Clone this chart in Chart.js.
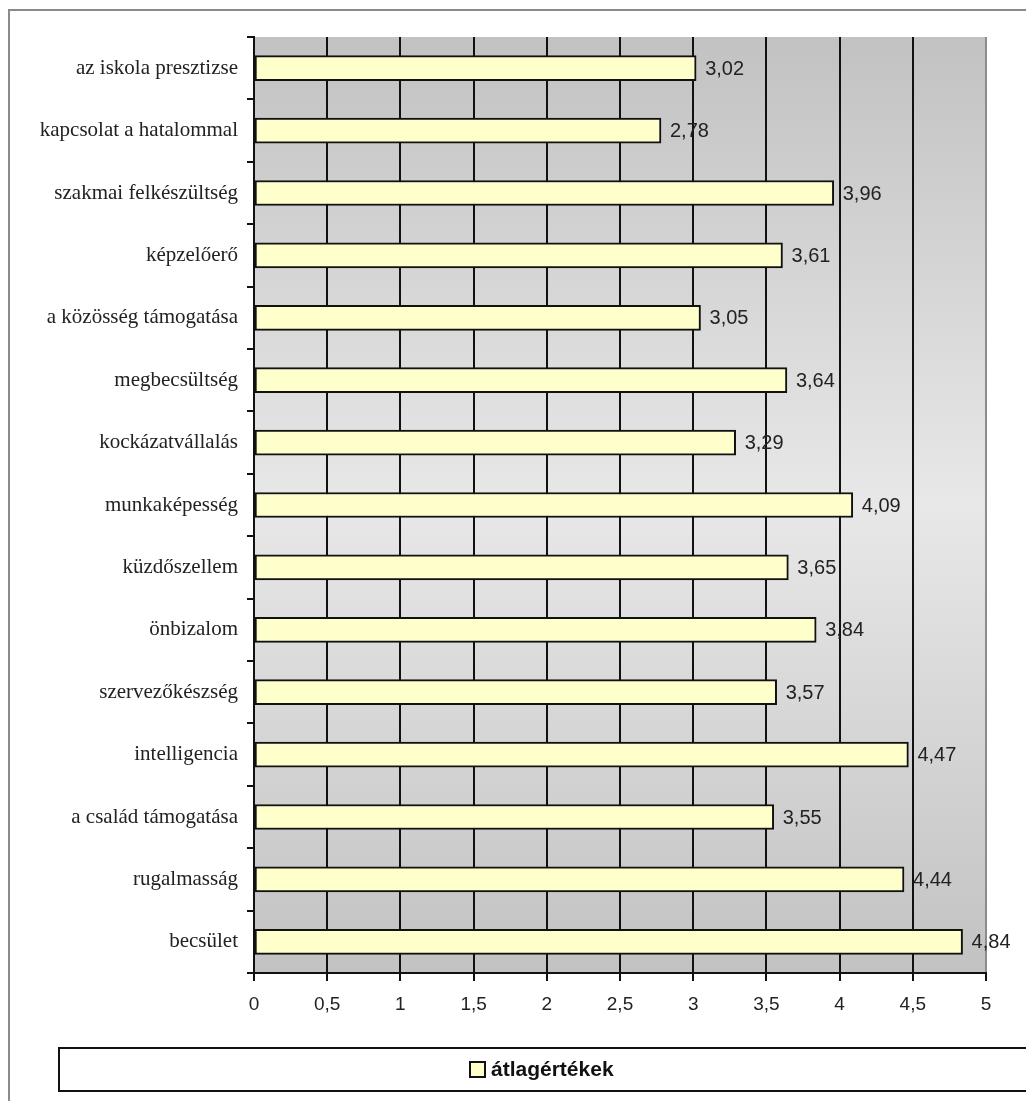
<!DOCTYPE html>
<html>
<head>
<meta charset="utf-8">
<script src="https://cdn.jsdelivr.net/npm/chart.js@4.4.0/dist/chart.umd.min.js"></script>
<style>
  html, body { margin: 0; padding: 0; background: #ffffff; }
  #wrap { width: 1026px; height: 1101px; position: relative; }
</style>
</head>
<body>
<div id="wrap"><canvas id="c" width="1026" height="1101"></canvas></div>
<script>
const categories = [
  "az iskola presztizse",
  "kapcsolat a hatalommal",
  "szakmai felkészültség",
  "képzelőerő",
  "a közösség támogatása",
  "megbecsültség",
  "kockázatvállalás",
  "munkaképesség",
  "küzdőszellem",
  "önbizalom",
  "szervezőkészség",
  "intelligencia",
  "a család támogatása",
  "rugalmasság",
  "becsület"
];
const seriesName = "átlagértékek";
const values = [3.02, 2.78, 3.96, 3.61, 3.05, 3.64, 3.29, 4.09, 3.65, 3.84, 3.57, 4.47, 3.55, 4.44, 4.84];
const xTickLabels = ["0", "0,5", "1", "1,5", "2", "2,5", "3", "3,5", "4", "4,5", "5"];

const fmt = v => String(v).replace('.', ',');

const bgPlugin = {
  id: 'bg',
  beforeDraw(chart) {
    const { ctx, chartArea: a } = chart;
    ctx.save();
    ctx.fillStyle = '#ffffff';
    ctx.fillRect(0, 0, chart.width, chart.height);
    const g = ctx.createLinearGradient(0, a.top, 0, a.bottom);
    g.addColorStop(0, '#c2c2c2');
    g.addColorStop(0.5, '#e8e8e8');
    g.addColorStop(1, '#c2c2c2');
    ctx.fillStyle = g;
    ctx.fillRect(a.left, a.top, a.right - a.left, a.bottom - a.top);
    // outer frame
    ctx.strokeStyle = '#8a8a8a';
    ctx.lineWidth = 2;
    ctx.beginPath();
    ctx.moveTo(9, chart.height + 5);
    ctx.lineTo(9, 10);
    ctx.lineTo(chart.width + 5, 10);
    ctx.stroke();
    ctx.restore();
  }
};

const labelPlugin = {
  id: 'labels',
  afterDatasetsDraw(chart) {
    const { ctx } = chart;
    const meta = chart.getDatasetMeta(0);
    ctx.save();
    ctx.font = '20px "Liberation Sans", Arial, sans-serif';
    ctx.fillStyle = '#222222';
    ctx.textAlign = 'left';
    ctx.textBaseline = 'middle';
    meta.data.forEach((el, i) => {
      ctx.fillText(fmt(chart.data.datasets[0].data[i]), el.x + 9, el.y + 1);
    });
    ctx.restore();
  },
  afterDraw(chart) {
    const { ctx } = chart;
    const ds = chart.data.datasets[0];
    ctx.save();
    ctx.strokeStyle = '#111111';
    ctx.lineWidth = 2;
    ctx.strokeRect(59, 1048, 990, 43);
    ctx.fillStyle = ds.backgroundColor;
    ctx.fillRect(470, 1062, 15, 15);
    ctx.strokeRect(470, 1062, 15, 15);
    ctx.fillStyle = '#111111';
    ctx.font = 'bold 21px "Liberation Sans", Arial, sans-serif';
    ctx.textAlign = 'left';
    ctx.textBaseline = 'middle';
    ctx.fillText(ds.label, 491, 1070);
    ctx.restore();
  }
};

new Chart(document.getElementById('c'), {
  type: 'bar',
  data: {
    labels: categories,
    datasets: [{
      label: seriesName,
      data: values,
      backgroundColor: '#ffffcc',
      borderColor: '#111111',
      borderWidth: 2,
      borderSkipped: false,
      barThickness: 25
    }]
  },
  options: {
    indexAxis: 'y',
    responsive: false,
    animation: false,
    devicePixelRatio: 1,
    layout: { padding: { left: 0, right: 40, top: 37, bottom: 0 } },
    plugins: {
      legend: { display: false },
      title: { display: false },
      tooltip: { enabled: false }
    },
    scales: {
      x: {
        min: 0,
        max: 5,
        afterFit(scale) { scale.height = 128; },
        afterBuildTicks(scale) {
          scale.ticks = xTickLabels.map((t, i) => ({ value: i * 0.5 }));
        },
        ticks: {
          stepSize: 0.5,
          autoSkip: false,
          maxRotation: 0,
          padding: 12,
          color: '#222222',
          font: { family: '"Liberation Sans", Arial, sans-serif', size: 19 },
          callback: (v, i) => xTickLabels[i]
        },
        grid: {
          color: ctx => (ctx.tick && ctx.tick.value === 5) ? '#8c8c8c' : '#111111',
          lineWidth: 2,
          drawTicks: true,
          tickLength: 8,
          tickColor: '#111111'
        },
        border: { display: true, color: '#111111', width: 2 }
      },
      y: {
        afterFit(scale) { scale.width = 254; },
        ticks: {
          autoSkip: false,
          padding: 9,
          color: '#222222',
          font: { family: '"Liberation Serif", "Times New Roman", serif', size: 21 }
        },
        grid: {
          display: true,
          offset: true,
          drawOnChartArea: false,
          drawTicks: true,
          tickLength: 7,
          color: '#111111',
          lineWidth: 2
        },
        border: { display: true, color: '#111111', width: 2 }
      }
    }
  },
  plugins: [bgPlugin, labelPlugin]
});
</script>
</body>
</html>
